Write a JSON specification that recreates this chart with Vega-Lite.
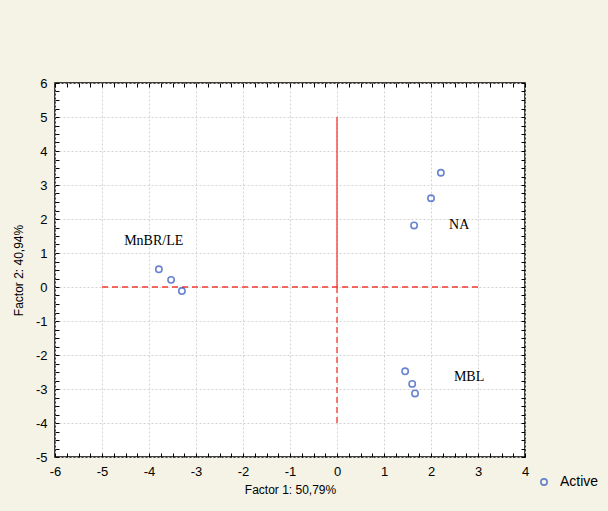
{
  "$schema": "https://vega.github.io/schema/vega-lite/v6.json",
  "autosize": "none",
  "width": 470,
  "height": 374,
  "padding": {"left": 55, "top": 83, "right": 83, "bottom": 54},
  "background": "#f5f2e6",
  "config": {
    "view": {"fill": "white", "stroke": "#000000", "strokeWidth": 1.5},
    "font": "Liberation Sans",
    "axis": {
      "labelFont": "Liberation Sans",
      "labelFontSize": 13,
      "labelColor": "#000000",
      "titleFont": "Liberation Sans",
      "titleFontSize": 12,
      "titleFontWeight": "normal",
      "titleColor": "#000000",
      "domain": false,
      "tickColor": "#000000",
      "labelOverlap": false,
      "labelFlush": false,
      "gridDash": [2, 2],
      "gridWidth": 1
    }
  },
  "datasets": {
    "pts": [
      {"group": "MnBR/LE", "f1": -3.79, "f2": 0.52, "series": "Active"},
      {"group": "MnBR/LE", "f1": -3.53, "f2": 0.21, "series": "Active"},
      {"group": "MnBR/LE", "f1": -3.30, "f2": -0.12, "series": "Active"},
      {"group": "NA", "f1": 2.21, "f2": 3.36, "series": "Active"},
      {"group": "NA", "f1": 2.00, "f2": 2.61, "series": "Active"},
      {"group": "NA", "f1": 1.64, "f2": 1.81, "series": "Active"},
      {"group": "MBL", "f1": 1.45, "f2": -2.48, "series": "Active"},
      {"group": "MBL", "f1": 1.60, "f2": -2.85, "series": "Active"},
      {"group": "MBL", "f1": 1.66, "f2": -3.13, "series": "Active"}
    ],
    "lines": [
      {"x": 0, "x2": 0, "y": 5, "y2": 0, "style": "solid"},
      {"x": 0, "x2": 0, "y": 0, "y2": -4, "style": "dashed"},
      {"x": -5, "x2": 3, "y": 0, "y2": 0, "style": "dashed"}
    ],
    "labels": [
      {"label": "MnBR/LE", "x": -3.9, "y": 1.35},
      {"label": "NA", "x": 2.6, "y": 1.82},
      {"label": "MBL", "x": 2.81, "y": -2.65}
    ]
  },
  "resolve": {"axis": {"x": "independent", "y": "independent"}},
  "layer": [
    {
      "data": {"name": "lines"},
      "mark": {"type": "rule", "color": "#f23a2e", "strokeWidth": 1.3},
      "encoding": {
        "x": {
          "field": "x", "type": "quantitative",
          "scale": {"domain": [-6, 4], "nice": false, "zero": false},
          "axis": {
            "orient": "bottom",
            "title": "Factor 1: 50,79%",
            "titlePadding": 6,
            "values": [-6,-5.75,-5.5,-5.25,-5,-4.75,-4.5,-4.25,-4,-3.75,-3.5,-3.25,-3,-2.75,-2.5,-2.25,-2,-1.75,-1.5,-1.25,-1,-0.75,-0.5,-0.25,0,0.25,0.5,0.75,1,1.25,1.5,1.75,2,2.25,2.5,2.75,3,3.25,3.5,3.75,4],
            "labelExpr": "datum.value % 1 == 0 ? toString(datum.value) : ''",
            "gridColor": {"condition": {"test": "datum.value % 1 == 0", "value": "#d2d2d2"}, "value": "transparent"},
            "gridOpacity": {"condition": {"test": "datum.value % 1 == 0", "value": 1}, "value": 0},
            "tickSize": -4,
            "labelPadding": 12
          }
        },
        "x2": {"field": "x2"},
        "y": {
          "field": "y", "type": "quantitative",
          "scale": {"domain": [-5, 6], "nice": false, "zero": false},
          "axis": {
            "orient": "left",
            "title": "Factor 2: 40,94%",
            "titlePadding": 10,
            "values": [-5,-4.75,-4.5,-4.25,-4,-3.75,-3.5,-3.25,-3,-2.75,-2.5,-2.25,-2,-1.75,-1.5,-1.25,-1,-0.75,-0.5,-0.25,0,0.25,0.5,0.75,1,1.25,1.5,1.75,2,2.25,2.5,2.75,3,3.25,3.5,3.75,4,4.25,4.5,4.75,5,5.25,5.5,5.75,6],
            "labelExpr": "datum.value % 1 == 0 ? toString(datum.value) : ''",
            "gridColor": {"condition": {"test": "datum.value % 1 == 0", "value": "#d2d2d2"}, "value": "transparent"},
            "gridOpacity": {"condition": {"test": "datum.value % 1 == 0", "value": 1}, "value": 0},
            "tickSize": -4,
            "labelPadding": 12
          }
        },
        "y2": {"field": "y2"},
        "strokeDash": {
          "field": "style", "type": "nominal",
          "scale": {"domain": ["solid", "dashed"], "range": [[1, 0], [6, 4]]},
          "legend": null
        }
      }
    },
    {
      "data": {"name": "labels"},
      "mark": {"type": "text", "font": "Liberation Serif", "fontSize": 14, "color": "#000000"},
      "encoding": {
        "x": {
          "field": "x", "type": "quantitative",
          "axis": {
            "orient": "top", "title": null, "labels": false, "grid": false,
            "values": [-6,-5.75,-5.5,-5.25,-5,-4.75,-4.5,-4.25,-4,-3.75,-3.5,-3.25,-3,-2.75,-2.5,-2.25,-2,-1.75,-1.5,-1.25,-1,-0.75,-0.5,-0.25,0,0.25,0.5,0.75,1,1.25,1.5,1.75,2,2.25,2.5,2.75,3,3.25,3.5,3.75,4],
            "tickSize": -4
          }
        },
        "y": {
          "field": "y", "type": "quantitative",
          "axis": {
            "orient": "right", "title": null, "labels": false, "grid": false,
            "values": [-5,-4.75,-4.5,-4.25,-4,-3.75,-3.5,-3.25,-3,-2.75,-2.5,-2.25,-2,-1.75,-1.5,-1.25,-1,-0.75,-0.5,-0.25,0,0.25,0.5,0.75,1,1.25,1.5,1.75,2,2.25,2.5,2.75,3,3.25,3.5,3.75,4,4.25,4.5,4.75,5,5.25,5.5,5.75,6],
            "tickSize": -4
          }
        },
        "text": {"field": "label"}
      }
    },
    {
      "data": {"name": "pts"},
      "mark": {"type": "point", "shape": "circle", "filled": false, "strokeWidth": 1.6, "size": 40},
      "encoding": {
        "x": {"field": "f1", "type": "quantitative", "axis": null},
        "y": {"field": "f2", "type": "quantitative", "axis": null},
        "color": {
          "field": "series", "type": "nominal",
          "scale": {"range": ["#2950c0"]},
          "legend": {
            "orient": "none", "legendX": 482, "legendY": 392, "title": null,
            "symbolType": "circle", "symbolStrokeWidth": 1.6, "symbolSize": 40,
            "labelFont": "Liberation Sans", "labelFontSize": 14, "labelColor": "#000000", "labelOffset": 9
          }
        }
      }
    }
  ]
}
